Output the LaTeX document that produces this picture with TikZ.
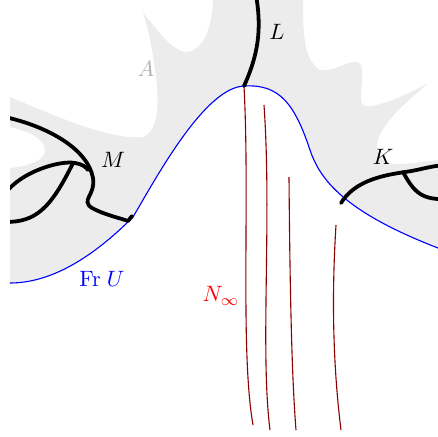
\documentclass[tikz,border=0pt]{standalone}
\usepackage{tikz}
\usetikzlibrary{positioning}
\tikzset{
  region/.style = {fill=gray!15, draw=none},
  frontier/.style = {draw=blue, line width=0.5pt},
  curve/.style = {draw=black, line width=1.7pt, line cap=round, line join=round},
  ray/.style = {draw=red!55!black, line width=0.5pt},
  lbl/.style = {inner sep=1pt}
}

\begin{document}
\begin{tikzpicture}[x=0.45pt, y=-0.45pt]
\useasboundingbox (0,0) rectangle (438,436);
\begin{scope}
\clip (10,0) rectangle (438,436);

% Set A
\fill[region] (10,97) .. controls (60,118) and (110,140) .. (143,137)
  .. controls (162,130) and (158,90) .. (155,70)
  .. controls (152,45) and (147,25) .. (143,13)
  .. controls (158,30) and (172,52) .. (187,52)
  .. controls (205,50) and (212,25) .. (213,0)
  -- (303,0)
  .. controls (303,30) and (303,60) .. (320,70)
  .. controls (335,72) and (348,60) .. (358,62)
  .. controls (366,66) and (360,90) .. (361,100)
  .. controls (362,112) and (380,104) .. (393,100)
  .. controls (405,95) and (420,88) .. (428,83)
  .. controls (412,98) and (385,118) .. (378,140)
  .. controls (374,158) and (385,165) .. (400,164)
  .. controls (415,163) and (430,161) .. (438,160)
  -- (438,300) -- (10,300) -- (10,168)
  .. controls (30,166) and (45,160) .. (45,150)
  .. controls (45,138) and (25,130) .. (10,127)
  -- cycle;

% Open set U and its frontier
\fill[white] (10,283) .. controls (60,283) and (105,245) .. (133,217)
  .. controls (155,180) and (205,86) .. (245,86)
  .. controls (280,84) and (295,105) .. (310,150)
  .. controls (320,180) and (345,212) .. (438,248)
  -- (438,436) -- (10,436) -- cycle;
\draw[frontier] (10,283) .. controls (60,283) and (105,245) .. (133,217)
  .. controls (155,180) and (205,86) .. (245,86)
  .. controls (280,84) and (295,105) .. (310,150)
  .. controls (320,180) and (345,212) .. (438,248);

% Rays of N
\draw[ray] (244,86) .. controls (250,200) and (240,350) .. (253,425);
\draw[ray] (264,105) .. controls (272,220) and (260,350) .. (270,430);
\draw[ray] (289,177) .. controls (290,300) and (292,380) .. (296,430);
\draw[ray] (336,225) .. controls (330,320) and (336,390) .. (341,430);

% Curves M, L, K
\draw[curve] (5,117) .. controls (50,127) and (88,150) .. (93,178)
  .. controls (96,195) and (80,200) .. (92,208)
  .. controls (105,215) and (120,218) .. (128,221) -- (132,216);
\draw[curve] (5,194) .. controls (20,172) and (60,160) .. (75,163)
  .. controls (82,164) and (86,167) .. (88,170);
\draw[curve] (5,222) .. controls (35,222) and (50,210) .. (73,163);
\draw[curve] (244,86) .. controls (258,55) and (262,30) .. (256,-5);
\draw[curve] (341,203) .. controls (355,180) and (385,175) .. (405,172)
  .. controls (420,170) and (430,166) .. (445,165);
\draw[curve] (403,172) .. controls (413,190) and (420,200) .. (445,199);
\end{scope}

% Labels
\node[lbl, text=gray!60] (lblA) at (146,69) {$A$};
\node[lbl] (lblL) at (277,32) {$L$};
\node[lbl] (lblM) at (113,160) {$M$};
\node[lbl] (lblK) at (383,157) {$K$};
\node[lbl, text=blue] (lblU) at (102,279) {$\mathrm{Fr}\;U$};
\node[lbl, text=red] (lblN) at (221,296) {$N_\infty$};

\end{tikzpicture}
\end{document}
